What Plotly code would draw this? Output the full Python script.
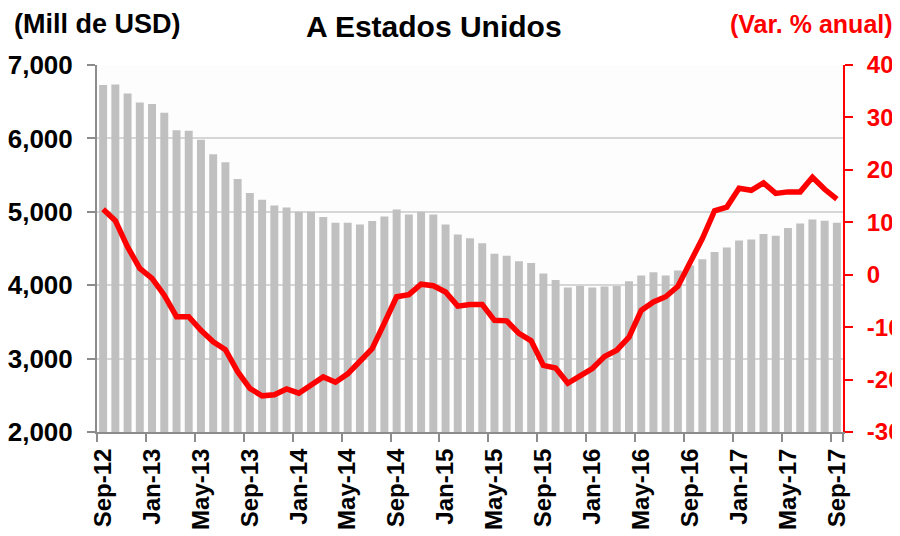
import pandas as pd
import plotly.graph_objects as go

# Monthly categories Sep-12 .. Sep-17
months = list(pd.date_range("2012-09-01", periods=61, freq="MS").strftime("%b-%y"))

# Exports to the United States (millions of USD) - bars, left axis
exports_musd = [6727, 6735, 6613, 6490, 6467, 6348, 6112, 6103, 5980, 5784,
                5675, 5447, 5255, 5165, 5087, 5060, 5000, 5000, 4928, 4851,
                4851, 4828, 4873, 4937, 5033, 4964, 5000, 4964, 4828, 4691,
                4641, 4572, 4427, 4400, 4327, 4304, 4158, 4072, 3967, 3990,
                3967, 3981, 3990, 4053, 4131, 4176, 4131, 4199, 4268, 4354,
                4454, 4514, 4609, 4623, 4696, 4673, 4778, 4842, 4896, 4878, 4851]

# Annual % change - red line, right axis
annual_pct = [12.5, 10.3, 5.3, 1.2, -0.7, -3.9, -8.0, -8.0, -10.6, -12.8,
              -14.3, -18.5, -21.7, -23.1, -22.9, -21.8, -22.6, -21.1, -19.5, -20.5,
              -18.9, -16.5, -14.1, -9.2, -4.2, -3.8, -1.8, -2.1, -3.3, -6.0,
              -5.7, -5.7, -8.7, -8.8, -11.2, -12.6, -17.3, -17.8, -20.7, -19.3,
              -17.9, -15.6, -14.4, -11.9, -6.8, -5.2, -4.2, -2.2, 2.1, 6.9,
              12.2, 12.9, 16.5, 16.1, 17.5, 15.5, 15.8, 15.8, 18.6, 16.3, 14.4]

left_ticks = [2000, 3000, 4000, 5000, 6000, 7000]
right_ticks = [-30, -20, -10, 0, 10, 20, 30, 40]
right_tick_text = [str(v) for v in right_ticks]
x_ticks = months[::4]

FONT = "Liberation Sans, Arial, sans-serif"

fig = go.Figure()
fig.add_trace(go.Bar(x=months, y=exports_musd, marker=dict(color="#c0c0c0", line=dict(width=0)),
                     yaxis="y", name="Mill de USD"))
fig.add_trace(go.Scatter(x=months, y=annual_pct, mode="lines", yaxis="y2",
                         line=dict(color="#ff0000", width=5.5), name="Var. % anual"))

# page body has an 8px margin: the figure is sized so the plot area lands where the reference has it
fig.update_layout(
    width=892, height=528,
    margin=dict(l=89, r=57, t=57, b=104),
    paper_bgcolor="white", plot_bgcolor="#fdfdfd",
    showlegend=False, bargap=0.35,
    font=dict(family=FONT, color="black"),
    xaxis=dict(type="category", tickmode="array", tickvals=x_ticks, ticktext=x_ticks,
               tickson="boundaries", ticks="outside", ticklen=8, tickwidth=2, tickcolor="#8c8c8c",
               tickangle=-90, tickfont=dict(size=24, weight="bold", color="black"),
               showline=True, linecolor="#8c8c8c", linewidth=2, showgrid=False,
               range=[-0.5, 60.5], ticklabelstandoff=5, automargin=False),
    yaxis=dict(range=[2000, 7000], tickvals=left_ticks, tickformat=",",
               ticks="outside", ticklen=8, tickwidth=2, tickcolor="#8c8c8c",
               showline=True, linecolor="#8c8c8c", linewidth=2,
               showgrid=True, gridcolor="#d6d6d6", gridwidth=1.5, zeroline=False,
               tickfont=dict(size=26, weight="bold", color="black"), ticklabelstandoff=9,
               automargin=False),
    yaxis2=dict(range=[-30, 40], tickvals=right_ticks, ticktext=right_tick_text,
                overlaying="y", side="right",
                ticks="outside", ticklen=8, tickwidth=2, tickcolor="#ff0000",
                showline=True, linecolor="#ff0000", linewidth=2, showgrid=False, zeroline=False,
                tickfont=dict(size=24, weight="bold", color="#ff0000"), ticklabelstandoff=9,
                automargin=False),
)

fig.add_annotation(text="A Estados Unidos", xref="paper", yref="paper", x=0.4515, y=1.104,
                   xanchor="center", yanchor="middle", showarrow=False,
                   font=dict(size=30, weight="bold", color="black", family=FONT))
fig.add_annotation(text="(Mill de USD)", xref="paper", xanchor="left", x=-0.114, yref="paper",
                   y=1.112, yanchor="middle", showarrow=False,
                   font=dict(size=27, weight="bold", color="black", family=FONT))
fig.add_annotation(text="(Var. % anual)", xref="paper", xanchor="right", x=1.07, yref="paper",
                   y=1.112, yanchor="middle", showarrow=False,
                   font=dict(size=25, weight="bold", color="#ff0000", family=FONT))

fig.write_html("out.html")
